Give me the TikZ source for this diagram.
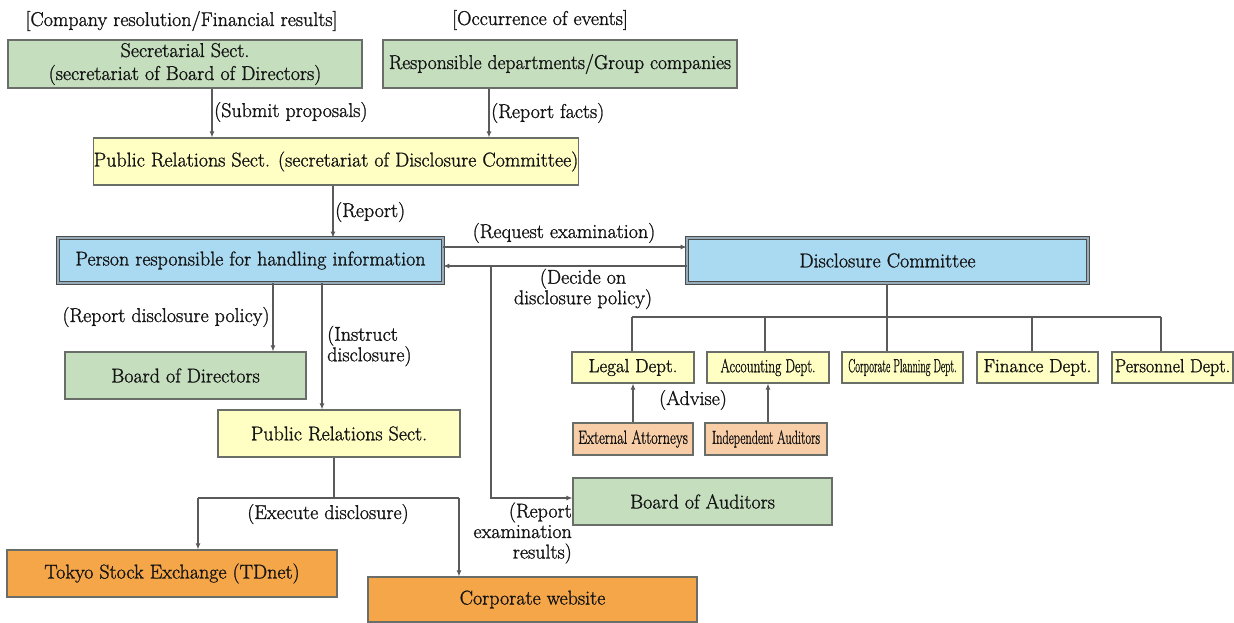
\documentclass[tikz,border=0pt]{standalone}
\usepackage{graphicx}
\usetikzlibrary{arrows.meta}
\font\mainf="[lmroman17-regular.otf]:embolden=1.2" at 20pt
\font\smallf="[lmroman17-regular.otf]:embolden=1.2" at 19pt
\definecolor{gfill}{RGB}{196,222,190}
\definecolor{yfill}{RGB}{255,255,196}
\definecolor{bfill}{RGB}{170,218,242}
\definecolor{ofill}{RGB}{245,166,72}
\definecolor{pfill}{RGB}{248,206,168}
\definecolor{bordc}{RGB}{105,110,105}
\definecolor{linec}{RGB}{90,90,90}
\definecolor{txtc}{RGB}{20,20,20}
\definecolor{dblc}{RGB}{150,172,186}
\begin{document}
\begin{tikzpicture}[x=1pt,y=-1pt,
  box/.style={draw=bordc, line width=1.2pt, inner sep=0pt, text=txtc, align=center, font=\fontsize{20}{23}\selectfont\mainf},
  gbox/.style={box, fill=gfill},
  ybox/.style={box, fill=yfill},
  obox/.style={box, fill=ofill},
  pbox/.style={box, fill=pfill, font=\fontsize{19}{20}\selectfont\smallf},
  sbox/.style={box, fill=yfill, font=\fontsize{19}{20}\selectfont\smallf},
  bbox/.style={box, fill=bfill, draw=black!70, line width=0.8pt, double=dblc, double distance=2.4pt},
  lab/.style={text=txtc, inner sep=0pt, font=\fontsize{20}{20.5}\selectfont\mainf},
  ln/.style={draw=linec, line width=1.1pt},
  arr/.style={ln, -{Latex[length=6pt,width=5pt]}}]
\useasboundingbox[fill=white] (0,0) rectangle (1234,623);

% top labels
\node[lab] (t1) at (181.5,21) {[Company resolution/Financial results]};
\node[lab] (t2) at (540,20) {[Occurrence of events]};

% boxes
\node[gbox, minimum width=354pt, minimum height=48pt] (sec) at (185,64) {Secretarial Sect.\\(secretariat of Board of Directors)};
\node[gbox, minimum width=354pt, minimum height=48pt] (resp) at (560,64) {\scalebox{0.98}[1]{Responsible departments/Group companies}};
\node[ybox, minimum width=482pt, minimum height=47pt] (pr1) at (336,161.5) {Public Relations Sect. (secretariat of Disclosure Committee)};
\node[bbox, minimum width=385pt, minimum height=45pt] (person) at (250.5,260.5) {Person responsible for handling information};
\node[bbox, minimum width=401pt, minimum height=45pt] (dc) at (887.5,260.5) {Disclosure Committee};
\node[gbox, minimum width=241pt, minimum height=47pt] (bod) at (185.5,375.5) {Board of Directors};
\node[ybox, minimum width=242pt, minimum height=47pt] (pr2) at (339,433.5) {Public Relations Sect.};
\node[sbox, minimum width=122pt, minimum height=31pt] (legal) at (633,367.5) {Legal Dept.};
\node[sbox, minimum width=122pt, minimum height=31pt] (acc) at (768,367.5) {\scalebox{0.71}[1]{Accounting Dept.}};
\node[sbox, minimum width=121pt, minimum height=31pt] (corp) at (902.5,367.5) {\scalebox{0.545}[1]{Corporate Planning Dept.}};
\node[sbox, minimum width=121pt, minimum height=31pt] (fin) at (1037.5,367.5) {Finance Dept.};
\node[sbox, minimum width=121pt, minimum height=31pt] (pers) at (1172.5,367.5) {\scalebox{0.95}[1]{Personnel Dept.}};
\node[pbox, minimum width=120pt, minimum height=32pt] (ext) at (633,439) {\scalebox{0.75}[1]{External Attorneys}};
\node[pbox, minimum width=122pt, minimum height=32pt] (ind) at (766,439) {\scalebox{0.65}[1]{Independent Auditors}};
\node[gbox, minimum width=259pt, minimum height=47pt] (boa) at (702.5,501.5) {Board of Auditors};
\node[obox, minimum width=330pt, minimum height=47pt] (tse) at (172,573.5) {Tokyo Stock Exchange (TDnet)};
\node[obox, minimum width=329pt, minimum height=45pt] (web) at (532.5,599.5) {Corporate website};

% connectors top
\draw[arr] ([xshift=27pt]sec.south) -- ([xshift=27pt]sec.south |- pr1.north);
\draw[arr] ([xshift=-71pt]resp.south) -- ([xshift=-71pt]resp.south |- pr1.north);
\draw[arr] ([xshift=-3pt]pr1.south) -- ([xshift=-3pt]pr1.south |- person.north);

% person <-> committee
\draw[arr] ([yshift=13.5pt]person.east) -- ([yshift=13.5pt]person.east -| dc.west);
\draw[arr] ([yshift=-5.5pt]dc.west) -- ([yshift=-5.5pt]dc.west -| person.east);
\coordinate (dj) at (491,266);
\draw[arr] (dj) |- ([yshift=3.5pt]boa.west);

% person down
\draw[arr] ([xshift=22.5pt]person.south) -- ([xshift=22.5pt]person.south |- bod.north);
\draw[arr] ([xshift=71.5pt]person.south) -- ([xshift=71.5pt]person.south |- pr2.north);

% committee tree
\coordinate (busL) at (632,317);
\coordinate (busR) at (1161,317);
\draw[ln, line width=1.4pt] ([xshift=-0.5pt,yshift=-1pt]dc.south) -- ([xshift=-0.5pt]dc.south |- busL);
\draw[ln] (busL) -- (busR);
\draw[ln] (busL) -- (busL |- legal.north);
\draw[ln] ([xshift=-3pt]acc.north) -- ([xshift=-3pt]acc.north |- busL);
\draw[ln] ([xshift=-15.5pt]corp.north) -- ([xshift=-15.5pt]corp.north |- busL);
\draw[ln] ([xshift=-5.5pt]fin.north) -- ([xshift=-5.5pt]fin.north |- busL);
\draw[ln] (busR) -- (busR |- pers.north);

% advise
\draw[arr] (ext.north) -- (ext.north |- legal.south);
\draw[arr] (acc.south |- ind.north) -- (acc.south);

% execute disclosure
\coordinate (exL) at (198,498);
\coordinate (exR) at (459,498);
\draw[ln] ([xshift=-5pt]pr2.south) -- ([xshift=-5pt]pr2.south |- exL);
\draw[ln] (exL) -- (exR);
\draw[arr] (exL) -- (exL |- tse.north);
\draw[arr] (exR) -- (exR |- web.north);

% labels
\node[lab, anchor=west] (l1) at (214,112) {(Submit proposals)};
\node[lab, anchor=west] (l2) at (491,113) {(Report facts)};
\node[lab, anchor=west] (l3) at (335,212) {(Report)};
\node[lab] (l4) at (564,233) {(Request examination)};
\node[lab, align=center] (l5) at (583,289) {(Decide on\\disclosure policy)};
\node[lab] (l6) at (166,317) {(Report disclosure policy)};
\node[lab, anchor=west, align=left] (l7) at (327,346) {(Instruct\\disclosure)};
\node[lab] (l8) at (693,400) {(Advise)};
\node[lab] (l9) at (328,514) {(Execute disclosure)};
\node[lab, anchor=east, align=right] (l10) at (572,533) {(Report\\examination\\results)};
\end{tikzpicture}
\end{document}
